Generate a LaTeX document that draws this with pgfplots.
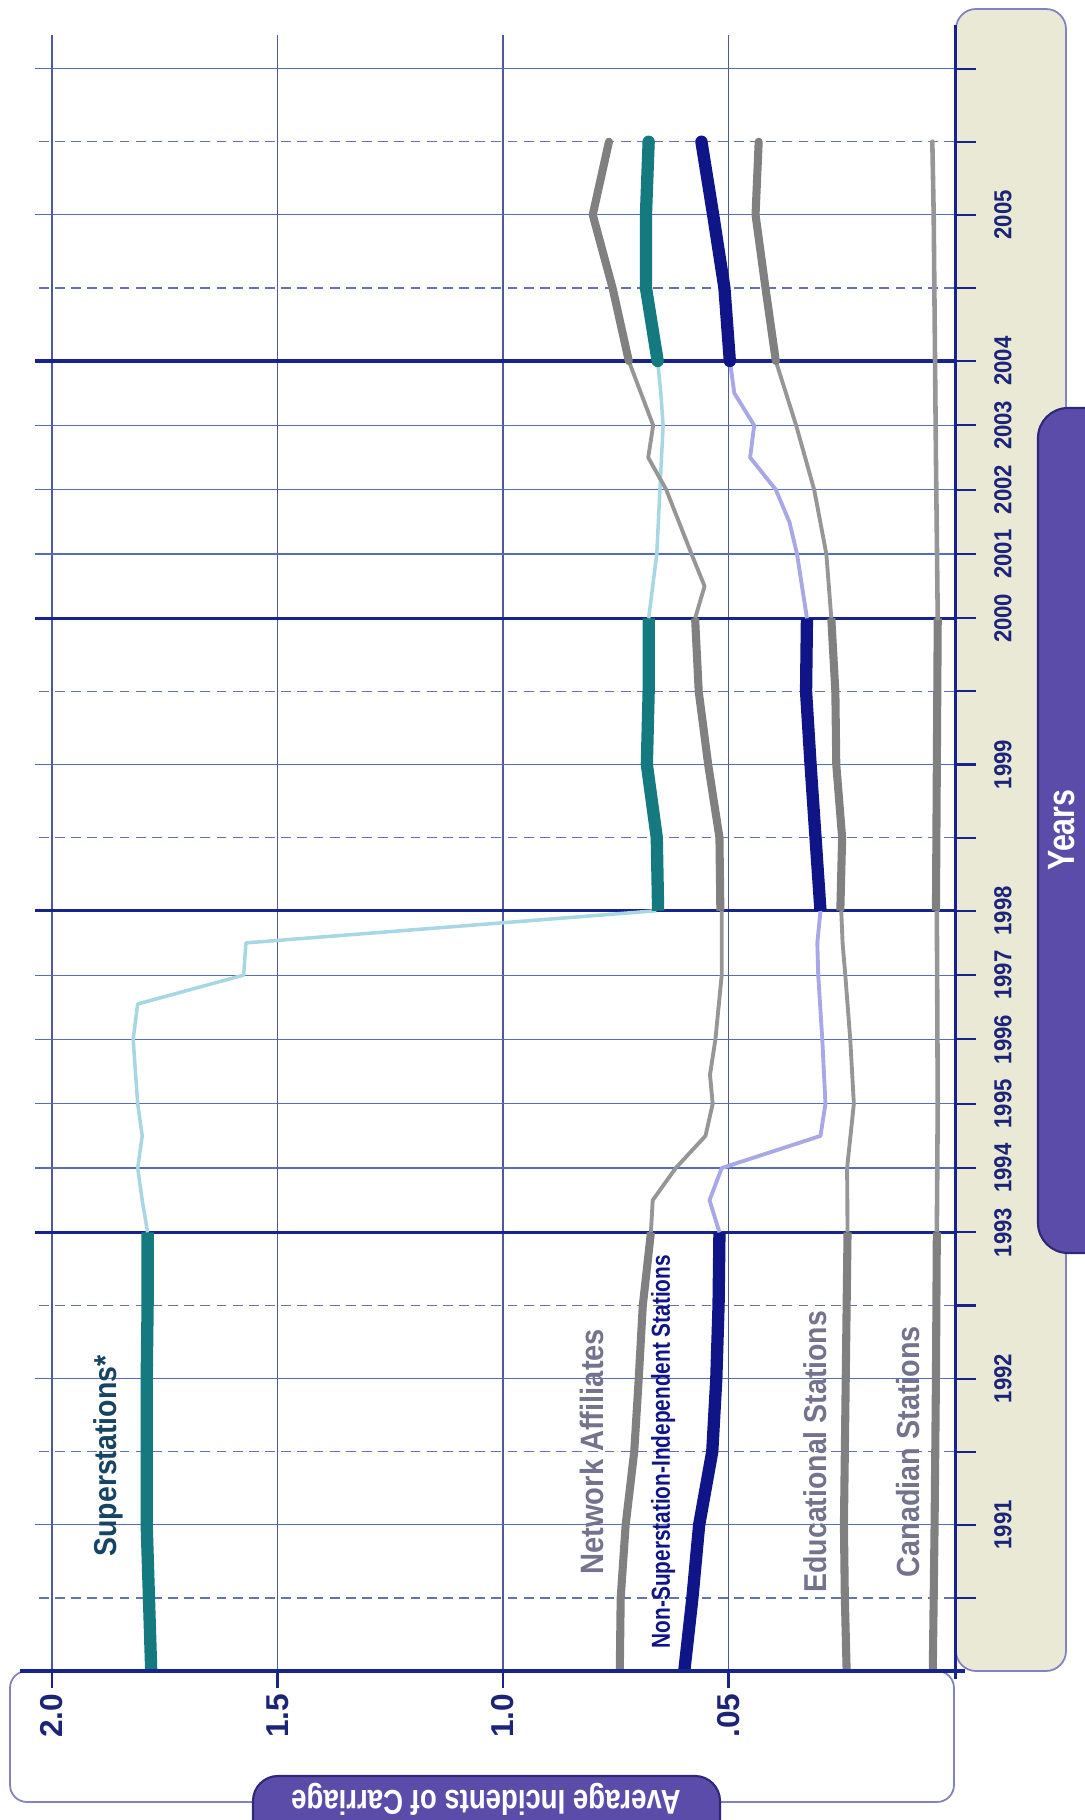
\documentclass[border=0pt]{standalone}
\usepackage{pgfplots}
\pgfplotsset{compat=1.18}
\usepackage{fontspec}
\setmainfont{Liberation Sans}
\newfontfamily\condb[FakeStretch=0.9]{Liberation Sans}
\newfontfamily\condc[FakeStretch=0.8]{Liberation Sans}
\definecolor{navyT}{RGB}{28,36,120}
\definecolor{navyL}{RGB}{15,20,135}
\definecolor{tealL}{RGB}{20,122,128}
\definecolor{teallab}{RGB}{22,68,98}
\definecolor{grayL}{RGB}{128,128,128}
\definecolor{grayT}{RGB}{150,150,150}
\definecolor{lblue}{RGB}{168,214,228}
\definecolor{lpurp}{RGB}{168,168,230}
\definecolor{gridb}{RGB}{88,108,190}
\definecolor{gridd}{RGB}{100,115,175}
\definecolor{gridv}{RGB}{80,90,150}
\definecolor{gridthick}{RGB}{25,35,140}
\definecolor{beige}{RGB}{233,233,214}
\definecolor{boxp}{RGB}{92,76,170}
\definecolor{boxd}{RGB}{45,40,120}
\definecolor{panelb}{RGB}{130,130,195}
\definecolor{labgray}{RGB}{115,115,142}
\begin{document}
\begin{tikzpicture}
\path[use as bounding box] (-0.35,-1.49) rectangle (10.50,16.71);
% side panels
\draw[panelb, line width=0.5pt, fill=beige, rounded corners=0.2cm] (9.21,0) rectangle (10.31,16.62);
\draw[boxd, line width=0.6pt, fill=boxp, rounded corners=0.3cm] (10.03,4.18) rectangle (10.95,12.63);
\node[rotate=90, text=white, inner sep=0pt, font=\condc\bfseries\fontsize{10.8}{12}\selectfont] at (10.27,8.41) {Years};
\draw[panelb, line width=0.5pt, fill=white, rounded corners=0.17cm] (-0.25,-1.31) rectangle (9.19,0);
\draw[boxd, line width=0.6pt, fill=boxp, rounded corners=0.25cm] (2.18,-1.05) rectangle (6.85,-1.95);
\node[rotate=180, text=white, inner sep=0pt, font=\condc\bfseries\fontsize{9.8}{11}\selectfont] at (4.51,-1.28) {Average Incidents of Carriage};
\begin{axis}[
  at={(0,0)}, anchor=south west, scale only axis,
  width=9.19cm, height=16.36cm,
  x dir=reverse, xmin=0, xmax=2.0377, ymin=1990, ymax=2006.23,
  y coord trafo/.code={\pgfmathparse{(#1<=1993)?(2*(#1-1990)):((#1<=1998)?(6+0.88*(#1-1993)):((#1<=2000)?(10.4+2*(#1-1998)):((#1<=2004)?(14.4+0.88*(#1-2000)):(17.92+2*(#1-2004)))))}},
  axis line style={draw=none},
  xtick={0.5,1,1.5,2}, ytick=\empty,
  xticklabels={}, xticklabel style={opacity=0},
  major tick length=0pt,
  xmajorgrids, major grid style={gridv, line width=0.3pt},
  clip=false,
  line join=round,
]
% horizontal grid
\pgfplotsinvokeforeach{1991,1992,1994,1995,1996,1997,1999,2001,2002,2003,2005,2006}{
  \draw[gridb, line width=0.32pt] (axis cs:0,#1) -- (axis cs:2.0377,#1);
}
\pgfplotsinvokeforeach{1990.5,1991.5,1992.5,1998.5,1999.5,2004.5,2005.5}{
  \draw[gridd, line width=0.35pt, dash pattern=on 2.8pt off 1.8pt] (axis cs:0,#1) -- (axis cs:2.0377,#1);
}
\pgfplotsinvokeforeach{1993,1998,2000,2004}{
  \draw[gridthick, line width=0.9pt] (axis cs:0,#1) -- (axis cs:2.0377,#1);
}
% right ticks
\pgfplotsinvokeforeach{1990.5,1991,1991.5,1992,1992.5,1993,1994,1995,1996,1997,1998,1998.5,1999,1999.5,2000,2001,2002,2003,2004,2004.5,2005,2005.5,2006}{
  \draw[gridthick, line width=0.6pt] (axis cs:0,#1) -- ++(0.22cm,0pt);
}
% bottom ticks and labels
\pgfplotsinvokeforeach{0.5,1,1.5,2}{
  \draw[gridthick, line width=0.6pt] (axis cs:#1,1990) -- ++(0pt,-0.17cm);
}
\node[rotate=90, anchor=east, inner sep=0pt, text=navyT, font=\bfseries\fontsize{9}{10}\selectfont] at ([yshift=-0.22cm]axis cs:2,1990) {2.0};
\node[rotate=90, anchor=east, inner sep=0pt, text=navyT, font=\bfseries\fontsize{9}{10}\selectfont] at ([yshift=-0.22cm]axis cs:1.5,1990) {1.5};
\node[rotate=90, anchor=east, inner sep=0pt, text=navyT, font=\bfseries\fontsize{9}{10}\selectfont] at ([yshift=-0.22cm]axis cs:1,1990) {1.0};
\node[rotate=90, anchor=east, inner sep=0pt, text=navyT, font=\bfseries\fontsize{9}{10}\selectfont] at ([yshift=-0.22cm]axis cs:0.5,1990) {.05};
% year labels
\pgfplotsinvokeforeach{1991,1992,1993,1994,1995,1996,1997,1998,1999,2000,2001,2002,2003,2004,2005}{
  \node[rotate=90, inner sep=0pt, text=navyT, font=\condb\bfseries\fontsize{7}{8}\selectfont] at ([xshift=0.49cm]axis cs:0,#1) {#1};
}
% Superstations
\addplot[tealL, line width=3.5pt] coordinates {(1.78,1990) (1.785,1990.5) (1.79,1991) (1.79,1991.5) (1.79,1992) (1.788,1992.5) (1.788,1993)};
\addplot[lblue, line width=1pt] coordinates {(1.788,1993) (1.80,1993.5) (1.81,1994) (1.80,1994.5) (1.81,1995) (1.815,1995.5) (1.82,1996) (1.81,1996.55) (1.575,1997) (1.57,1997.5) (0.66,1998)};
\addplot[tealL, line width=3.5pt] coordinates {(0.656,1998) (0.659,1998.5) (0.681,1999) (0.677,1999.5) (0.677,2000)};
\addplot[lblue, line width=1pt] coordinates {(0.677,2000) (0.659,2001) (0.652,2002) (0.645,2003) (0.65,2003.5) (0.657,2004)};
\addplot[tealL, line width=3.5pt, line cap=round] coordinates {(0.657,2004) (0.683,2004.5) (0.683,2005) (0.677,2005.5)};
% Network Affiliates
\addplot[grayL, line width=2.3pt] coordinates {(0.741,1990) (0.739,1990.5) (0.728,1991) (0.709,1991.5) (0.699,1992) (0.69,1992.5) (0.672,1993)};
\addplot[grayT, line width=1.1pt] coordinates {(0.672,1993) (0.668,1993.5) (0.617,1994) (0.551,1994.5) (0.535,1995) (0.541,1995.45) (0.529,1996) (0.515,1997) (0.515,1997.5) (0.515,1998)};
\addplot[grayL, line width=2.3pt] coordinates {(0.518,1998) (0.52,1998.5) (0.545,1999) (0.566,1999.5) (0.574,2000)};
\addplot[grayT, line width=1.1pt] coordinates {(0.574,2000) (0.553,2000.5) (0.582,2001) (0.638,2002) (0.678,2002.5) (0.667,2003) (0.721,2004)};
\addplot[grayL, line width=2.3pt, line cap=round] coordinates {(0.721,2004) (0.757,2004.5) (0.801,2005) (0.765,2005.5)};
% Non-Superstation-Independent
\addplot[navyL, line width=3.5pt] coordinates {(0.598,1990) (0.58,1990.5) (0.565,1991) (0.536,1991.5) (0.527,1992) (0.522,1992.5) (0.520,1993)};
\addplot[lpurp, line width=1.1pt] coordinates {(0.520,1993) (0.542,1993.5) (0.515,1994) (0.296,1994.5) (0.285,1995) (0.292,1996) (0.301,1997) (0.303,1997.5) (0.296,1998)};
\addplot[navyL, line width=3.5pt] coordinates {(0.296,1998) (0.307,1998.5) (0.318,1999) (0.328,1999.5) (0.326,2000)};
\addplot[lpurp, line width=1.1pt] coordinates {(0.326,2000) (0.348,2001) (0.365,2001.5) (0.395,2002) (0.452,2002.5) (0.443,2003) (0.487,2003.5) (0.497,2004)};
\addplot[navyL, line width=3.5pt, line cap=round] coordinates {(0.497,2004) (0.509,2004.5) (0.534,2005) (0.56,2005.5)};
% Educational
\addplot[grayL, line width=2.3pt] coordinates {(0.238,1990) (0.242,1990.5) (0.244,1991) (0.242,1991.5) (0.24,1992) (0.238,1992.5) (0.236,1993)};
\addplot[grayT, line width=1.1pt] coordinates {(0.236,1993) (0.237,1994) (0.222,1995) (0.23,1996) (0.241,1997) (0.247,1997.5) (0.25,1998)};
\addplot[grayL, line width=2.3pt] coordinates {(0.252,1998) (0.248,1998.5) (0.261,1999) (0.263,1999.5) (0.272,2000)};
\addplot[grayT, line width=1.1pt] coordinates {(0.272,2000) (0.283,2001) (0.31,2002) (0.35,2003) (0.395,2004)};
\addplot[grayL, line width=2.3pt, line cap=round] coordinates {(0.395,2004) (0.418,2004.5) (0.44,2005) (0.433,2005.5)};
% Canadian
\addplot[grayL, line width=2.3pt] coordinates {(0.047,1990) (0.043,1991) (0.04,1992) (0.038,1993)};
\addplot[grayT, line width=1.3pt] coordinates {(0.038,1993) (0.036,1995) (0.037,1996.5) (0.038,1998)};
\addplot[grayL, line width=2.3pt] coordinates {(0.040,1998) (0.036,2000)};
\addplot[grayT, line width=1.3pt, line cap=round] coordinates {(0.036,2000) (0.04,2002.5) (0.042,2004) (0.045,2005) (0.048,2005.5)};
% series labels
\node[rotate=90, inner sep=0pt, text=teallab, font=\condb\bfseries\fontsize{9}{10}\selectfont] at (axis cs:1.876,1991.47) {Superstations*};
\node[rotate=90, inner sep=0pt, text=labgray, font=\condb\bfseries\fontsize{9.2}{10}\selectfont] at (axis cs:0.803,1991.5) {Network Affiliates};
\node[rotate=90, inner sep=0pt, text=navyL, font=\condc\bfseries\fontsize{7.4}{8}\selectfont] at (axis cs:0.645,1991.5) {Non-Superstation-Independent Stations};
\node[rotate=90, inner sep=0pt, text=labgray, font=\condb\bfseries\fontsize{9}{10}\selectfont] at (axis cs:0.308,1991.5) {Educational Stations};
\node[rotate=90, inner sep=0pt, text=labgray, font=\condb\bfseries\fontsize{9.1}{10}\selectfont] at (axis cs:0.102,1991.5) {Canadian Stations};
\end{axis}
% axis lines
\draw[gridthick, line width=0.9pt] (-0.15,0) -- (9.30,0);
\draw[gridthick, line width=0.9pt] (9.205,-0.08) -- (9.205,16.46);
\end{tikzpicture}
\end{document}
